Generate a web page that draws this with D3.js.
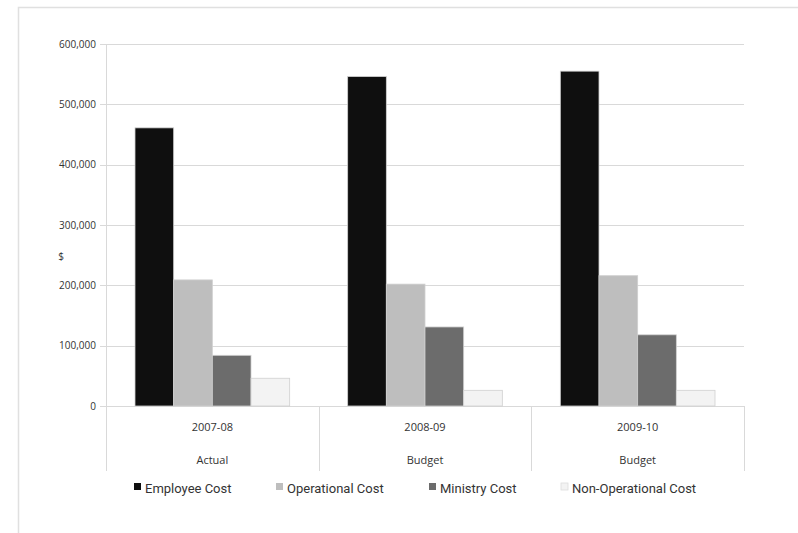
<!DOCTYPE html>
<html>
<head>
<meta charset="utf-8">
<script src="https://cdn.jsdelivr.net/npm/d3@7"></script>
<style>
body{margin:0;background:#fff;}
text{font-family:"Open Sans",sans-serif;fill:#333;}
</style>
</head>
<body>
<div id="chart"></div>
<script>
// data
var years = ["2007-08", "2008-09", "2009-10"];
var kinds = ["Actual", "Budget", "Budget"];
var seriesNames = ["Employee Cost", "Operational Cost", "Ministry Cost", "Non-Operational Cost"];
var employee = [461000, 546000, 555000];
var operational = [209000, 202000, 216000];
var ministry = [84000, 131000, 118000];
var nonOperational = [46000, 26000, 26000];
var yTicks = [0, 100000, 200000, 300000, 400000, 500000, 600000];

var colors = ["#0f0f0f", "#bebebe", "#6c6c6c", "#f3f3f3"];
var series = [employee, operational, ministry, nonOperational];

var w = 798, h = 533;
var padL = 106, padR = 744, padT = 44, padB = 406;

var svg = d3.select("#chart").append("svg")
  .attr("width", w).attr("height", h);

// outer frame (only top/left visible)
svg.append("rect")
  .attr("x", 18.5).attr("y", 7.5)
  .attr("width", 800).attr("height", 540)
  .attr("fill", "none").attr("stroke", "#e0e0e0").attr("stroke-width", 1.5);

var x0 = d3.scaleBand().domain(years).range([padL, padR]).paddingInner(0).paddingOuter(0);
var x1 = d3.scaleBand().domain(d3.range(4)).range([0, x0.bandwidth()]).paddingOuter(0.75).paddingInner(0);
var y = d3.scaleLinear().domain([0, 600000]).range([padB, padT]);

// gridlines
svg.append("g")
  .selectAll("line").data(yTicks).enter().append("line")
  .attr("x1", padL - 6).attr("x2", padR)
  .attr("y1", function(d){ return Math.round(y(d)) + 0.5; })
  .attr("y2", function(d){ return Math.round(y(d)) + 0.5; })
  .attr("stroke", "#d9d9d9").attr("stroke-width", 1);

// y axis labels
var yAxis = d3.axisLeft(y).tickValues(yTicks).tickSize(0).tickPadding(10)
  .tickFormat(d3.format(","));
var ga = svg.append("g").attr("transform", "translate(" + padL + ",0)").call(yAxis);
ga.select(".domain").remove();
ga.selectAll("text").style("font-size", "10px").style("font-family", "\"Open Sans\",sans-serif").attr("fill", "#333");

// vertical axis line and dividers
svg.append("line")
  .attr("x1", padL + 0.5).attr("x2", padL + 0.5)
  .attr("y1", padT).attr("y2", 471)
  .attr("stroke", "#d9d9d9");
svg.append("g").selectAll("line").data(years).enter().append("line")
  .attr("x1", function(d){ return Math.round(x0(d) + x0.bandwidth()) + 0.5; })
  .attr("x2", function(d){ return Math.round(x0(d) + x0.bandwidth()) + 0.5; })
  .attr("y1", padB).attr("y2", 471)
  .attr("stroke", "#d9d9d9");

// bars
var groups = svg.append("g").selectAll("g").data(years).enter().append("g")
  .attr("transform", function(d){ return "translate(" + x0(d) + ",0)"; });
groups.selectAll("rect")
  .data(function(d, i){ return series.map(function(s, j){ return {j: j, v: s[i]}; }); })
  .enter().append("rect")
  .attr("x", function(d){ return x1(d.j); })
  .attr("width", x1.bandwidth())
  .attr("y", function(d){ return y(d.v); })
  .attr("height", function(d){ return padB - y(d.v); })
  .attr("fill", function(d){ return colors[d.j]; })
  .attr("stroke", "#d0d0d0").attr("stroke-width", 0.8);

// category labels
svg.append("g").selectAll("text").data(years).enter().append("text")
  .attr("x", function(d){ return x0(d) + x0.bandwidth() / 2; })
  .attr("y", 431)
  .attr("text-anchor", "middle")
  .style("font-size", "11px")
  .text(function(d){ return d; });
svg.append("g").selectAll("text").data(kinds).enter().append("text")
  .attr("x", function(d, i){ return x0(years[i]) + x0.bandwidth() / 2; })
  .attr("y", 464)
  .attr("text-anchor", "middle")
  .style("font-size", "11px")
  .text(function(d){ return d; });

// y axis title
svg.append("text")
  .attr("x", 61).attr("y", 260)
  .attr("text-anchor", "middle")
  .style("font-size", "10px")
  .text("$");

// legend
var legendX = [134, 276, 429, 561];
var lg = svg.append("g").selectAll("g").data(seriesNames).enter().append("g")
  .attr("transform", function(d, i){ return "translate(" + legendX[i] + ",483)"; });
lg.append("rect")
  .attr("width", 7).attr("height", 7).attr("y", 0)
  .attr("fill", function(d, i){ return colors[i]; })
  .attr("stroke", function(d, i){ return i === 3 ? "#ddd" : "none"; })
  .attr("stroke-width", 0.8);
lg.append("text")
  .attr("x", 11).attr("y", 10)
  .style("font-size", "13px")
  .style("font-family", "Roboto,sans-serif")
  .attr("fill", "#222")
  .text(function(d){ return d; });
</script>
</body>
</html>
